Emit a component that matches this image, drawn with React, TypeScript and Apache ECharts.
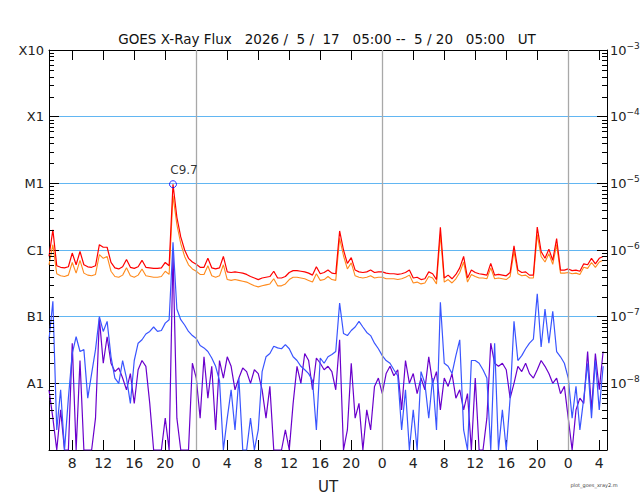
import * as echarts from "echarts";
import { useEffect, useRef } from "react";

// samples every 30 min, hours counted from 5/17 00:00 UT
const START_HOUR = 5;
const STEP_HOURS = 0.5;

// long channel (0.1-0.8 nm), in units of 1e-7 W/m2
const longPrimary = [
  8, 20, 5.8, 5.5, 5.4, 5.6, 9, 6.0, 9.5, 6.0,
  5.6, 5.5, 5.8, 12, 11, 11, 6.5, 5.4, 5.2, 5.6,
  7.2, 5.5, 5.3, 5.6, 7.0, 5.5, 5.4, 5.3, 5.3, 5.4,
  6.5, 5.8, 97, 31, 15.7, 10, 7.5, 6.6, 6.1, 5.5,
  5.5, 7.5, 5.4, 5.2, 5.4, 8, 4.7, 4.6, 4.7, 4.6,
  4.5, 4.3, 4.0, 3.8, 3.6, 3.8, 3.9, 4.0, 4.8, 3.8,
  3.8, 4.0, 4.6, 4.9, 4.9, 4.8, 4.7, 4.5, 4.2, 5.6,
  4.4, 4.6, 5.0, 4.5, 4.4, 19.3, 10, 6.3, 7.7, 5.0,
  4.7, 4.6, 4.7, 5.0, 4.6, 4.7, 4.7, 4.5, 4.4, 4.4,
  4.3, 4.4, 4.6, 5.0, 3.8, 3.9, 3.6, 3.7, 4.7, 4.4,
  3.6, 22, 3.8, 4.2, 3.7, 4.3, 5.4, 8.0, 3.8, 5.0,
  4.6, 4.4, 4.3, 4.2, 6.3, 4.2, 4.3, 4.2, 4.1, 4.6,
  11.5, 5.0, 4.6, 4.7, 4.2, 4.2, 22, 9.5, 7.5, 10.3,
  7.0, 14.8, 5.0, 5.0, 5.2, 4.9, 5.0, 4.8, 6.2, 6.0,
  7.5, 6.2, 7.5, 8.0, null,
];
const longSecondary = [
  6.0, 12, 4.4, 4.1, 4.0, 4.2, 6.5, 4.5, 7.0, 4.5,
  4.2, 4.1, 4.3, 8.5, 7.5, 8.0, 4.8, 4.0, 3.9, 4.2,
  5.4, 4.1, 3.9, 4.2, 5.2, 4.1, 4.0, 3.9, 3.9, 4.0,
  4.8, 4.3, 65, 24, 12.5, 8.0, 6.0, 5.2, 4.8, 4.3,
  4.3, 5.8, 4.1, 3.9, 4.1, 6.0, 3.6, 3.5, 3.6, 3.5,
  3.4, 3.3, 3.1, 2.9, 2.8, 2.9, 3.0, 3.1, 3.7, 2.9,
  2.9, 3.1, 3.6, 3.9, 3.9, 3.8, 3.7, 3.5, 3.3, 4.4,
  3.5, 3.6, 4.0, 3.6, 3.5, 15, 8.2, 5.2, 6.4, 4.1,
  3.9, 3.8, 3.9, 4.1, 3.8, 3.9, 3.9, 3.7, 3.7, 3.7,
  3.6, 3.7, 3.9, 4.2, 3.2, 3.3, 3.1, 3.2, 4.0, 3.8,
  3.1, 17, 3.3, 3.6, 3.2, 3.7, 4.6, 6.6, 3.3, 4.3,
  4.0, 3.8, 3.8, 3.7, 5.4, 3.7, 3.8, 3.7, 3.6, 4.0,
  9.5, 4.4, 4.1, 4.2, 3.8, 3.8, 17, 8.0, 6.6, 8.8,
  6.1, 12, 4.5, 4.5, 4.6, 4.4, 4.5, 4.3, 5.5, 5.3,
  6.5, 5.5, 6.6, 7.0, null,
];

// short channel (0.05-0.4 nm), in units of 1e-9 W/m2 (1 = floor of the plot)
const shortPrimary = [
  45, 170, 2, 8, 1, 6, 28, 50, 30, 32,
  6, 14, 32, 100, 60, 85, 25, 12, 10, 22,
  12, 5, 22, 40, 45, 55, 60, 70, 60, 62,
  80, 90, 1300, 130, 90, 75, 60, 52, 47, 37,
  34, 30, 24, 18, 11, 1, 3, 8, 2, 12,
  1, 1, 3, 1, 2, 15, 25, 28, 36, 34,
  33, 38, 33, 25, 22, 18, 16, 14, 11, 2,
  24, 20, 25, 27, 30, 160, 56, 52, 62, 70,
  85, 70, 58, 52, 40, 33, 26, 22, 20, 16,
  13, 2, 8, 1, 4, 1, 15, 10, 3, 12,
  2, 165, 20, 18, 14, 26, 45, 2, 1, 22,
  22, 20, 16, 12, 1, 40, 1, 4, 1, 6,
  85, 22, 26, 33, 40, 46, 220, 35, 130, 40,
  120, 30, 25, 20, 12, 3, 9, 2, 6, 20,
  3, 22, 4, 18, null,
];
const shortSecondary = [
  8, 3, 1, 4, 1, 1, 40, 1, 22, 1,
  1, 1, 3, 95, 20, 50, 20, 15, 17, 12,
  8, 14, 5, 16, 22, 18, 5, 1, 1, 1,
  3, 1, 900, 3, 1, 1, 1, 20, 12, 3,
  25, 6, 18, 2, 22, 12, 25, 18, 8, 12,
  17, 15, 10, 16, 14, 8, 3, 9, 1, 1,
  1, 2, 1, 5, 18, 10, 28, 22, 8, 24,
  20, 16, 18, 15, 8, 45, 1, 2, 20, 3,
  5, 1, 4, 2, 9, 12, 7, 14, 18, 13,
  16, 4, 22, 10, 14, 7, 12, 8, 25, 10,
  15, 4, 12, 9, 14, 6, 8, 4, 7, 1,
  12, 1, 1, 3, 40, 20, 18, 20, 16, 6,
  10, 18, 15, 20, 14, 12, 16, 22, 18, 14,
  10, 12, 7, 9, 3, 1, 4, 6, 5, 30,
  4, 28, 8, 30, null,
];

const hourTicks = [8, 12, 16, 20, 24, 28, 32, 36, 40, 44, 48, 52, 56, 60, 64, 68, 72, 76];
const midnights = [24, 48, 72];
// left labels for exponents -9 .. -3
const classLabels = ["", "A1", "B1", "C1", "M1", "X1", "X10"];
const flareClasses: Record<number, string> = { [-8]: "A", [-7]: "B", [-6]: "C", [-5]: "M", [-4]: "X" };

const TITLE =
  "GOES X-Ray Flux\u00a0\u00a0\u00a02026\u00a0/\u00a0\u00a05\u00a0/\u00a0\u00a017\u00a0\u00a0\u00a005:00\u00a0--\u00a0\u00a05\u00a0/\u00a020\u00a0\u00a0\u00a005:00\u00a0\u00a0\u00a0UT";
const FONT = "'DejaVu Sans', sans-serif";

const toLogSeries = (arr: (number | null)[], unit: number) =>
  arr
    .map((v, i) => (v == null ? null : [START_HOUR + i * STEP_HOURS, Math.log10(v * unit)]))
    .filter((p) => p !== null);

const App = () => {
  const chartRef = useRef<HTMLDivElement>(null);

  useEffect(() => {
    if (!chartRef.current) return;
    const chart = echarts.init(chartRef.current, undefined, { renderer: "svg" });

    // flare peak marker from the long channel
    let peakIdx = 0;
    longPrimary.forEach((v, i) => {
      if (v != null && v > (longPrimary[peakIdx] as number)) peakIdx = i;
    });
    const peakFlux = (longPrimary[peakIdx] as number) * 1e-7;
    const peakExp = Math.floor(Math.log10(peakFlux) + 1e-9);
    const peakLabel = flareClasses[peakExp] + (peakFlux / Math.pow(10, peakExp)).toFixed(1);

    const minorTicks: number[][] = [];
    for (let e = -9; e < -3; e++) {
      for (let k = 2; k <= 9; k++) minorTicks.push([START_HOUR, e + Math.log10(k)]);
    }

    const xAxisBase = {
      type: "value",
      min: 5,
      max: 77,
      axisLine: { onZero: false, lineStyle: { color: "#000", width: 1 } },
      axisTick: { inside: true, length: 10, customValues: hourTicks, lineStyle: { color: "#000" } },
      splitLine: { show: false },
    };
    const yAxisBase = {
      type: "value",
      min: -9,
      max: -3,
      interval: 1,
      axisLine: { show: true, lineStyle: { color: "#000", width: 1 } },
      axisTick: { show: true, inside: true, length: 10, lineStyle: { color: "#000" } },
    };
    const lineBase = {
      type: "line",
      showSymbol: false,
      symbol: "none",
      silent: true,
      xAxisIndex: 0,
      yAxisIndex: 0,
    };

    chart.setOption({
      animation: false,
      backgroundColor: "#fff",
      textStyle: { fontFamily: FONT },
      grid: { left: 49, right: 33, top: 50, bottom: 50, containLabel: false, outerBoundsMode: "none" },
      xAxis: [
        {
          ...xAxisBase,
          position: "bottom",
          axisLabel: {
            customValues: hourTicks,
            formatter: (v: number) => String(v % 24),
            color: "#222",
            fontSize: 14,
            margin: 6,
            fontFamily: FONT,
          },
          name: "UT",
          nameLocation: "middle",
          nameGap: 29,
          nameTextStyle: { color: "#222", fontSize: 15, fontFamily: FONT },
        },
        { ...xAxisBase, position: "top", axisLabel: { show: false } },
      ],
      yAxis: [
        {
          ...yAxisBase,
          position: "left",
          axisLabel: {
            formatter: (v: number) => classLabels[Math.round(v) + 9],
            color: "#222",
            fontSize: 13,
            margin: 5,
            fontFamily: FONT,
          },
          splitLine: {
            show: true,
            showMinLine: false,
            showMaxLine: false,
            lineStyle: { color: "#62b6f2", width: 1.2, type: "solid" },
          },
        },
        {
          ...yAxisBase,
          position: "right",
          axisLabel: {
            formatter: (v: number) => {
              const e = Math.round(v);
              return e === -9 ? "" : `{b|10}{s|\u2212${-e}}`;
            },
            margin: 3,
            rich: {
              b: { fontSize: 13, lineHeight: 18, color: "#222", fontFamily: FONT },
              s: { fontSize: 9, lineHeight: 10, verticalAlign: "top", color: "#222", fontFamily: FONT },
            },
          },
          splitLine: { show: false },
        },
      ],
      series: [
        {
          ...lineBase,
          name: "short secondary",
          data: toLogSeries(shortSecondary, 1e-9),
          lineStyle: { color: "#6a00cc", width: 1.2 },
          markLine: {
            silent: true,
            symbol: ["none", "none"],
            label: { show: false },
            lineStyle: { color: "#a8a8a8", type: "solid", width: 1.3 },
            data: midnights.map((h) => ({ xAxis: h })),
          },
        },
        {
          ...lineBase,
          name: "short primary",
          data: toLogSeries(shortPrimary, 1e-9),
          lineStyle: { color: "#3a55ff", width: 1.2 },
        },
        {
          ...lineBase,
          name: "long secondary",
          data: toLogSeries(longSecondary, 1e-7),
          lineStyle: { color: "#ff8a1c", width: 1.1 },
        },
        {
          ...lineBase,
          name: "long primary",
          data: toLogSeries(longPrimary, 1e-7),
          lineStyle: { color: "#ff0000", width: 1.2 },
        },
        {
          type: "scatter",
          silent: true,
          data: [[START_HOUR + peakIdx * STEP_HOURS, Math.log10(peakFlux)]],
          symbol: "circle",
          symbolSize: 7,
          itemStyle: { color: "rgba(0,0,0,0)", borderColor: "#0000ff", borderWidth: 1 },
          label: {
            show: true,
            position: "top",
            distance: 4,
            offset: [11, 0],
            formatter: peakLabel,
            color: "#000",
            fontSize: 12,
            fontFamily: FONT,
          },
          z: 5,
        },
        {
          type: "custom",
          silent: true,
          data: minorTicks,
          encode: { x: 0, y: 1 },
          renderItem: (params: any, api: any) => {
            const cs = params.coordSys;
            const y = Math.round(api.coord([api.value(0), api.value(1)])[1]) + 0.5;
            const style = { stroke: "#000", lineWidth: 1 };
            return {
              type: "group",
              children: [
                { type: "line", shape: { x1: cs.x, y1: y, x2: cs.x + 5, y2: y }, style },
                { type: "line", shape: { x1: cs.x + cs.width - 5, y1: y, x2: cs.x + cs.width, y2: y }, style },
              ],
            };
          },
          z: 6,
        },
      ],
      graphic: [
        {
          type: "text",
          x: 327,
          y: 39,
          style: {
            text: TITLE,
            fill: "#111",
            font: `13.5px ${FONT}`,
            textAlign: "center",
            textVerticalAlign: "middle",
          },
        },
        {
          type: "text",
          x: 594,
          y: 485,
          style: {
            text: "plot_goes_xray2.m",
            fill: "#444",
            font: `5px ${FONT}`,
            textAlign: "center",
            textVerticalAlign: "middle",
          },
        },
      ],
    });

    return () => {
      chart.dispose();
    };
  }, []);

  return (
    <div
      ref={chartRef}
      style={{ position: "fixed", left: 0, top: 0, width: "640px", height: "500px" }}
    />
  );
};

export default App;
